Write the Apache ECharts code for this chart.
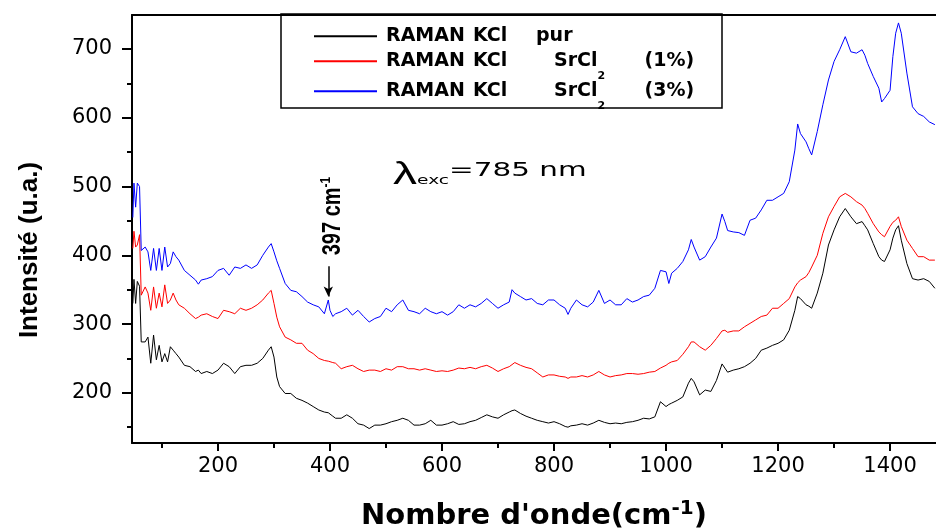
<!DOCTYPE html>
<html><head><meta charset="utf-8">
<script src="https://cdn.jsdelivr.net/npm/echarts@6/dist/echarts.min.js"></script>
<style>html,body{margin:0;padding:0;background:#fff}#c{width:936px;height:529px}</style>
</head><body><div id="c"></div>
<script>
const wavenumber = [
 48,50,53,56,60,63,70,75,80,85,
 90,95,100,105,110,115,120,125,130,140,
 150,160,165,170,180,190,200,210,220,230,
 240,250,260,270,280,290,295,300,305,310,
 320,330,340,350,360,370,380,390,397,400,
 405,410,420,430,440,450,460,470,480,490,
 500,510,520,530,540,550,560,570,580,590,
 600,610,620,630,640,650,660,670,680,690,
 700,710,720,725,730,740,750,760,770,780,
 790,800,810,820,825,830,840,850,860,870,
 880,890,900,910,920,930,940,950,960,970,
 980,990,1000,1005,1010,1020,1030,1040,1045,1050,
 1060,1070,1080,1090,1100,1105,1110,1120,1130,1140,
 1150,1160,1170,1180,1190,1200,1210,1220,1230,1235,
 1240,1250,1255,1260,1270,1280,1290,1300,1310,1320,
 1330,1340,1350,1355,1360,1370,1380,1385,1390,1400,
 1405,1410,1415,1420,1430,1440,1450,1460,1470,1480
];
const kclPur = [
 330,365,330,362,355,274,274,281,243,284,
 248,269,245,257,245,267,262,257,252,240,
 238,231,233,228,231,228,233,243,238,228,
 238,240,240,243,250,262,267,252,223,209,
 199,199,192,189,185,180,175,172,171,170,
 166,163,163,168,163,155,153,148,153,153,
 155,158,160,163,160,153,153,155,160,153,
 153,155,158,154,155,158,160,164,168,165,
 163,168,172,174,175,170,166,163,160,158,
 156,158,155,151,150,152,153,155,153,156,
 160,157,155,156,155,157,158,160,163,162,
 165,187,180,183,185,189,194,214,221,216,
 197,204,202,218,242,236,230,233,235,238,
 243,250,262,265,269,272,277,291,320,340,
 337,328,326,323,345,374,415,437,456,468,
 456,446,449,443,437,417,398,393,391,408,
 425,437,443,422,388,366,364,366,362,352
];
const kclSr1 = [
 410,435,412,415,430,342,354,345,320,354,
 323,345,325,357,330,335,345,335,328,323,
 315,308,310,313,315,311,308,320,318,315,
 323,320,323,328,335,345,349,330,310,296,
 281,277,272,272,262,257,250,247,246,245,
 244,243,235,238,240,235,231,233,233,231,
 235,233,238,238,235,235,233,235,233,231,
 232,231,233,236,235,237,235,238,240,236,
 231,235,238,241,244,240,237,235,229,223,
 226,226,224,223,221,223,223,225,223,226,
 231,226,223,225,226,228,228,227,228,230,
 231,236,240,243,245,247,256,267,274,274,
 267,262,269,279,290,291,288,290,290,296,
 301,306,311,313,323,323,330,337,354,360,
 364,369,375,383,400,432,456,471,485,490,
 485,478,473,468,461,446,434,430,427,442,
 448,451,456,442,422,410,398,398,393,393
];
const kclSr3 = [
 455,505,470,505,500,407,412,405,378,410,
 378,410,378,412,383,388,405,398,393,378,
 371,364,358,364,366,369,378,381,371,383,
 381,386,381,386,400,412,417,405,392,381,
 359,349,347,340,332,328,325,315,335,320,
 311,315,318,323,313,320,311,303,308,311,
 323,318,328,335,320,318,315,323,318,315,
 318,313,318,328,323,328,325,330,337,330,
 323,328,332,350,345,340,335,337,330,328,
 335,335,328,323,314,323,335,328,325,332,
 349,330,335,328,328,337,332,335,340,342,
 352,378,376,359,374,381,391,408,423,412,
 393,398,412,425,460,449,436,434,433,429,
 451,454,466,480,480,485,490,507,553,591,
 577,565,555,546,580,619,655,682,699,718,
 696,694,699,691,679,660,643,623,628,640,
 689,723,738,723,665,616,606,602,594,590
];
const xMajorTicks = [200,400,600,800,1000,1200,1400];
const xMinorTicks = [100,300,500,700,900,1100,1300];
const yMajorTicks = [200,300,400,500,600,700];
const yMinorTicks = [150,250,350,450,550,650];
const seriesNames = ['RAMAN KCl pur','RAMAN KCl SrCl2 (1%)','RAMAN KCl SrCl2 (3%)'];
const legendLabels = [
  '{a|RAMAN}{k1|KCl}{t|pur}',
  '{a|RAMAN}{k2|KCl}{t|SrCl}{sub|2}{t|(1%)}',
  '{a|RAMAN}{k2|KCl}{t|SrCl}{sub|2}{t|(3%)}'
];
const seriesColors = ['#000000','#ff0000','#0000ff'];
const seriesValues = [kclPur, kclSr1, kclSr3];
const annotationPeak = 397;

const X_MIN = 46.5, X_MAX = 1482, Y_MIN = 127, Y_MAX = 749.5;
const FONT = 'DejaVu Sans';
const axisLineStyle = {color:'#000', width:2};
const plain = v => String(Math.round(v));

const chart = echarts.init(document.getElementById('c'), null, {renderer:'canvas'});

const tok = {fontSize:19, fontWeight:'bold', fontFamily:FONT, color:'#000', lineHeight:28, padding:[11,0,11,0]};
const legendRich = {
  a: Object.assign({}, tok, {width:87}),
  k1: Object.assign({}, tok, {width:63}),
  k2: Object.assign({}, tok, {width:81}),
  t: tok,
  sub: {fontSize:11, fontWeight:'bold', fontFamily:FONT, color:'#000', lineHeight:14, padding:[33,0,3,0], width:47}
};
const legendTops = [15.7, 37.7, 67.7];

const option = {
  animation:false,
  backgroundColor:'#fff',
  grid:{left:132, top:15, right:0, bottom:86, containLabel:false, outerBoundsMode:'none'},
  legend: seriesNames.map((n,i)=>({
    data:[n], left:313, top:legendTops[i], padding:0, itemWidth:63, itemHeight:14, z:20,
    itemStyle:{opacity:0},
    formatter:()=>legendLabels[i],
    textStyle:{fontSize:19, fontWeight:'bold', fontFamily:FONT, color:'#000', padding:[0,0,0,4], rich:legendRich},
    selectedMode:false
  })),
  xAxis:[
    {type:'value', position:'bottom', min:X_MIN, max:X_MAX,
     axisLine:{lineStyle:axisLineStyle},
     axisTick:{customValues:xMajorTicks, length:8, lineStyle:{color:'#000', width:2}},
     axisLabel:{customValues:xMajorTicks, formatter:plain, margin:13, fontSize:21, fontFamily:FONT, color:'#000'},
     splitLine:{show:false},
     name:'Nombre d\'onde(cm{sup|-1})', nameLocation:'middle', nameGap:56,
     nameTextStyle:{fontSize:29, fontWeight:'bold', fontFamily:FONT, color:'#000',
       rich:{sup:{fontSize:20, fontWeight:'bold', fontFamily:FONT, color:'#000', padding:[0,0,15,0]}}}},
    {type:'value', position:'bottom', min:X_MIN, max:X_MAX,
     axisLine:{show:false},
     axisTick:{customValues:xMinorTicks, length:5, lineStyle:{color:'#000', width:2}},
     axisLabel:{show:false}, splitLine:{show:false}},
    {type:'value', position:'top', min:X_MIN, max:X_MAX,
     axisLine:{lineStyle:axisLineStyle},
     axisTick:{show:false}, axisLabel:{show:false}, splitLine:{show:false}}
  ],
  yAxis:[
    {type:'value', position:'left', min:Y_MIN, max:Y_MAX,
     axisLine:{show:true, lineStyle:axisLineStyle},
     axisTick:{show:true, customValues:yMajorTicks, length:10, lineStyle:{color:'#000', width:2}},
     axisLabel:{customValues:yMajorTicks, formatter:plain, margin:20, fontSize:21, fontFamily:FONT, color:'#000'},
     splitLine:{show:false},
     name:'Intensité (u.a.)', nameLocation:'middle', nameGap:89, nameRotate:90,
     nameTextStyle:{fontSize:26, fontWeight:'bold', fontFamily:'Liberation Sans', color:'#000', padding:[0,42,0,0]}},
    {type:'value', position:'left', min:Y_MIN, max:Y_MAX,
     axisLine:{show:false},
     axisTick:{show:true, customValues:yMinorTicks, length:5, lineStyle:{color:'#000', width:2}},
     axisLabel:{show:false}, splitLine:{show:false}}
  ],
  graphic:[
    {type:'rect', shape:{x:281, y:14, width:441, height:94}, style:{fill:'none', stroke:'#000', lineWidth:1.5}, z:1},
    {type:'text', x:393, y:171, scaleX:1.55, z:10,
     style:{text:'{l|λ}{s|exc}{n|=785 nm}', align:'left', verticalAlign:'middle', fill:'#000',
       rich:{l:{fontSize:31, fontFamily:'Liberation Sans', fill:'#000', padding:[9,0,0,0]},
             s:{fontSize:12, fontFamily:FONT, fill:'#000', padding:[20,0,0,0]},
             n:{fontSize:19, fontFamily:FONT, fill:'#000'}}}},
    {type:'text', x:333, y:216, rotation:Math.PI/2, scaleY:1.25, z:10,
     style:{text:'397 cm{sup|-1}', align:'center', verticalAlign:'middle', fill:'#000',
       fontSize:20, fontWeight:'bold', fontFamily:'Liberation Sans',
       rich:{sup:{fontSize:12, fontWeight:'bold', fontFamily:'Liberation Sans', fill:'#000', padding:[0,0,12,0]}}}}
  ],
  series: seriesNames.map((n,i)=>({
    name:n, type:'line', xAxisIndex:0, yAxisIndex:0,
    data: wavenumber.map((x,j)=>[x, seriesValues[i][j]]),
    showSymbol:false, symbol:'none', color:seriesColors[i],
    lineStyle:{width:1, color:seriesColors[i]},
    z: 2+i,
    markLine: i===2 ? {
      silent:true, symbol:['none','arrow'], symbolSize:[7,10],
      lineStyle:{color:'#000', width:1.5, type:'solid'}, label:{show:false},
      data:[[{coord:[annotationPeak, 384]},{coord:[annotationPeak, 340]}]]
    } : undefined
  }))
};
chart.setOption(option);
</script></body></html>
